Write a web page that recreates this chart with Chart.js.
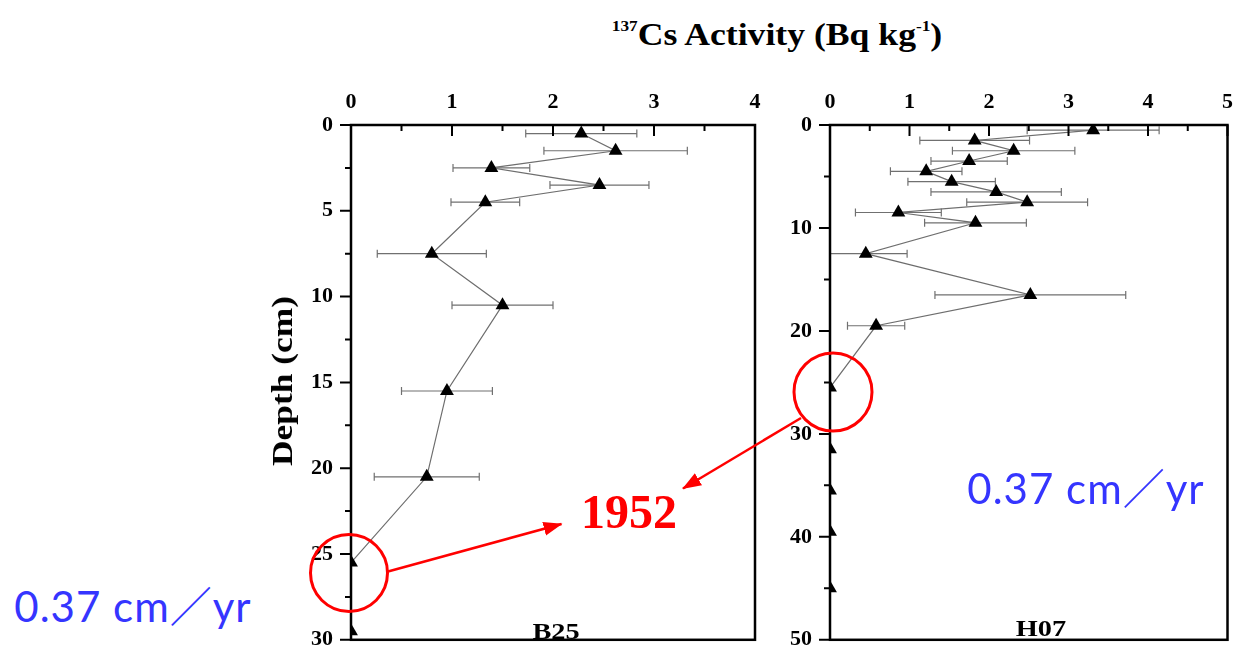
<!DOCTYPE html>
<html>
<head>
<meta charset="utf-8">
<script src="https://cdn.jsdelivr.net/npm/chart.js@4"></script>
<style>
  html, body { margin: 0; padding: 0; background: #ffffff; }
  #stage { position: relative; width: 1242px; height: 671px; overflow: hidden; background: #ffffff; }
  #stage canvas { position: absolute; }
  #b25Chart { left: 260px; top: 60px; }
  #h07Chart { left: 740px; top: 60px; }
  .label { position: absolute; white-space: nowrap; font-family: "Liberation Serif", "Times New Roman", Tinos, serif; font-weight: bold; color: #000; line-height: 1; }
  .title { left: 777px; top: 34px; font-size: 31px; transform: translate(-50%, -50%) scaleX(1.15); }
  .title sup { font-size: 15px; vertical-align: 14px; }
  .depth { left: 282px; top: 381px; font-size: 30px; transform: translate(-50%, -50%) rotate(-90deg) scaleX(1.18); }
  .panel { font-size: 24px; transform: translate(-50%, -50%) scaleX(1.18); }
  .year { left: 629px; top: 512px; font-size: 48px; color: #ff0000; transform: translate(-50%, -50%); }
  .rate { position: absolute; white-space: nowrap; font-family: Lato, "Noto Sans CJK JP", sans-serif; font-size: 42px; letter-spacing: 1px; color: #3535ff; line-height: 1; transform: translate(-50%, -50%); }
  #overlay { position: absolute; left: 0; top: 0; }
</style>
</head>
<body>
<div id="stage">
  <canvas id="b25Chart" width="510" height="611"></canvas>
  <canvas id="h07Chart" width="502" height="611"></canvas>

  <div class="label title"><sup>137</sup>Cs Activity (Bq kg<sup>-1</sup>)</div>
  <div class="label depth">Depth (cm)</div>
  <div class="label panel" style="left:556px; top:631px;">B25</div>
  <div class="label panel" style="left:1041px; top:628px;">H07</div>
  <div class="label year">1952</div>
  <div class="rate" style="left:133px; top:606px;">0.37 cm／yr</div>
  <div class="rate" style="left:1086px; top:488px;">0.37 cm／yr</div>

  <svg id="overlay" width="1242" height="671">
    <defs>
      <marker id="head" markerUnits="userSpaceOnUse" markerWidth="20" markerHeight="16" refX="18" refY="7" orient="auto">
        <path d="M0,0 L19,7 L0,14 Z" fill="#ff0000"></path>
      </marker>
    </defs>
    <circle cx="349" cy="573" r="38.5" fill="none" stroke="#ff0000" stroke-width="3"></circle>
    <circle cx="833" cy="392" r="39" fill="none" stroke="#ff0000" stroke-width="3"></circle>
    <line x1="388" y1="571.5" x2="561.5" y2="524" stroke="#ff0000" stroke-width="2.5" marker-end="url(#head)"></line>
    <line x1="801" y1="418" x2="683" y2="488.5" stroke="#ff0000" stroke-width="2.5" marker-end="url(#head)"></line>
  </svg>
</div>

<script>
// B25 core
const b25Depth = [0.5, 1.5, 2.5, 3.5, 4.5, 7.5, 10.5, 15.5, 20.5, 25.5, 29.5];
const b25Activity = [2.28, 2.62, 1.39, 2.46, 1.33, 0.80, 1.50, 0.95, 0.75, 0, 0];
const b25Error = [0.55, 0.71, 0.38, 0.49, 0.34, 0.54, 0.50, 0.45, 0.52, 0, 0];
const b25XTicks = [0, 1, 2, 3, 4];
const b25YTicks = [0, 5, 10, 15, 20, 25, 30];

// H07 core
const h07Depth = [0.5, 1.5, 2.5, 3.5, 4.5, 5.5, 6.5, 7.5, 8.5, 9.5, 12.5, 16.5, 19.5, 25.5, 31.5, 35.5, 39.5, 45];
const h07Activity = [3.31, 1.82, 2.31, 1.75, 1.21, 1.53, 2.09, 2.48, 0.86, 1.83, 0.45, 2.52, 0.58, 0, 0, 0, 0, 0];
const h07Error = [0.83, 0.69, 0.77, 0.48, 0.45, 0.55, 0.82, 0.76, 0.54, 0.64, 0.52, 1.20, 0.36, 0, 0, 0, 0, 0];
const h07XTicks = [0, 1, 2, 3, 4, 5];
const h07YTicks = [0, 10, 20, 30, 40, 50];

const tickFont = { family: "'Liberation Serif', 'Times New Roman', serif", size: 22, weight: "bold" };

// horizontal error bars, drawn under the line and markers
const errorBarPlugin = {
  id: "errorBars",
  beforeDatasetsDraw(chart, args, opts) {
    const ctx = chart.ctx;
    const area = chart.chartArea;
    const xScale = chart.scales.x;
    const points = chart.getDatasetMeta(0).data;
    const values = chart.data.datasets[0].data;

    ctx.save();
    ctx.beginPath();
    ctx.rect(area.left, area.top, area.right - area.left, area.bottom - area.top);
    ctx.clip();
    ctx.strokeStyle = "#707070";
    ctx.lineWidth = 1.2;
    points.forEach((pt, i) => {
      const err = opts.errors[i];
      if (!err) {
        return;
      }
      const x0 = xScale.getPixelForValue(values[i].x - err);
      const x1 = xScale.getPixelForValue(values[i].x + err);
      const y = pt.y;
      ctx.beginPath();
      ctx.moveTo(x0, y);
      ctx.lineTo(x1, y);
      ctx.moveTo(x0, y - 4);
      ctx.lineTo(x0, y + 4);
      ctx.moveTo(x1, y - 4);
      ctx.lineTo(x1, y + 4);
      ctx.stroke();
    });
    ctx.restore();
  }
};

// box frame plus major/minor ticks (inward on top, outward on left)
const framePlugin = {
  id: "frame",
  afterDatasetsDraw(chart) {
    const ctx = chart.ctx;
    const area = chart.chartArea;
    const xScale = chart.scales.x;
    const yScale = chart.scales.y;
    const xVals = xScale.ticks.map(t => t.value);
    const yVals = yScale.ticks.map(t => t.value);

    ctx.save();
    ctx.strokeStyle = "#000000";
    ctx.lineWidth = 2;
    ctx.beginPath();
    xVals.forEach((v, i) => {
      const px = xScale.getPixelForValue(v);
      ctx.moveTo(px, area.top);
      ctx.lineTo(px, area.top + 11);
      if (i < xVals.length - 1) {
        const mx = xScale.getPixelForValue((v + xVals[i + 1]) / 2);
        ctx.moveTo(mx, area.top);
        ctx.lineTo(mx, area.top + 6);
      }
    });
    yVals.forEach((v, i) => {
      const py = yScale.getPixelForValue(v);
      ctx.moveTo(area.left, py);
      ctx.lineTo(area.left - 11, py);
      if (i < yVals.length - 1) {
        const my = yScale.getPixelForValue((v + yVals[i + 1]) / 2);
        ctx.moveTo(area.left, my);
        ctx.lineTo(area.left - 6, my);
      }
    });
    ctx.stroke();

    ctx.lineWidth = 2.5;
    ctx.strokeRect(area.left, area.top, area.right - area.left, area.bottom - area.top);
    ctx.restore();
  }
};

function buildProfileChart(canvasId, depth, activity, errors, xTicks, yTicks, padding) {
  const canvas = document.getElementById(canvasId);
  const points = depth.map((d, i) => ({ x: activity[i], y: d }));

  return new Chart(canvas, {
    type: "scatter",
    data: {
      datasets: [
        {
          data: points,
          showLine: true,
          borderColor: "#6e6e6e",
          borderWidth: 1.2,
          pointStyle: "triangle",
          pointRadius: 8,
          pointBackgroundColor: "#000000",
          pointBorderColor: "#000000",
          pointBorderWidth: 0,
          clip: 0
        }
      ]
    },
    options: {
      responsive: false,
      animation: false,
      devicePixelRatio: 1,
      layout: { padding },
      plugins: {
        legend: { display: false },
        tooltip: { enabled: false },
        errorBars: { errors }
      },
      scales: {
        x: {
          type: "linear",
          position: "top",
          min: xTicks[0],
          max: xTicks[xTicks.length - 1],
          afterBuildTicks: scale => { scale.ticks = xTicks.map(value => ({ value })); },
          afterFit: scale => { scale.height = 50; },
          grid: { display: false, drawTicks: false },
          border: { display: false },
          ticks: { font: tickFont, color: "#000000", padding: 9, maxRotation: 0 }
        },
        y: {
          type: "linear",
          reverse: true,
          min: yTicks[0],
          max: yTicks[yTicks.length - 1],
          afterBuildTicks: scale => { scale.ticks = yTicks.map(value => ({ value })); },
          afterFit: scale => { scale.width = 60; },
          grid: { display: false, drawTicks: false },
          border: { display: false },
          ticks: { font: tickFont, color: "#000000", padding: 18 }
        }
      }
    },
    plugins: [errorBarPlugin, framePlugin]
  });
}

buildProfileChart("b25Chart", b25Depth, b25Activity, b25Error, b25XTicks, b25YTicks,
  { left: 31, top: 15, right: 15, bottom: 9 });
buildProfileChart("h07Chart", h07Depth, h07Activity, h07Error, h07XTicks, h07YTicks,
  { left: 30, top: 15, right: 8, bottom: 10 });
</script>
</body>
</html>
